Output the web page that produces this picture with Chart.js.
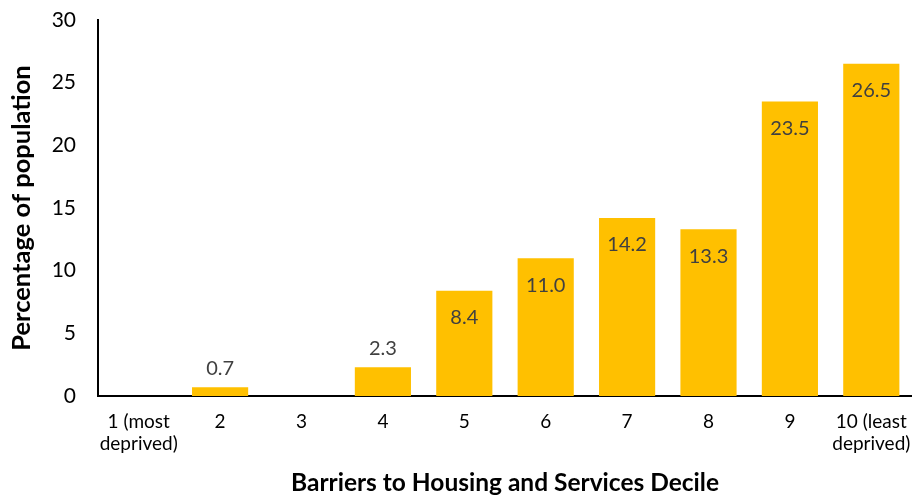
<!DOCTYPE html>
<html>
<head>
<meta charset="utf-8">
<script src="https://cdn.jsdelivr.net/npm/chart.js@4"></script>
<style>
  html, body { margin: 0; padding: 0; background: #fff; }
  #wrap { width: 912px; height: 498px; }
</style>
</head>
<body>
<div id="wrap"><canvas id="decileChart"></canvas></div>
<script>
// Deciles and share of population in each
const deciles = [['1 (most', 'deprived)'], '2', '3', '4', '5', '6', '7', '8', '9', ['10 (least', 'deprived)']];
const populationPct = [0, 0.7, 0, 2.3, 8.4, 11.0, 14.2, 13.3, 23.5, 26.5];
const yTicks = [0, 5, 10, 15, 20, 25, 30];

const FONT = "'Lato', 'Open Sans', sans-serif";

// Value labels: inside the top of tall bars, above short ones, none for zero
const barLabels = {
  id: 'barLabels',
  afterDatasetsDraw(chart) {
    const ctx = chart.ctx;
    const meta = chart.getDatasetMeta(0);
    ctx.save();
    ctx.font = '20px ' + FONT;
    ctx.fillStyle = '#404040';
    ctx.textAlign = 'center';
    ctx.textBaseline = 'middle';
    meta.data.forEach((bar, i) => {
      const v = populationPct[i];
      if (!v) return;
      const y = v > 5 ? bar.y + 27 : bar.y - 19;
      ctx.fillText(v.toFixed(1), bar.x, y);
    });
    ctx.restore();
  }
};

// Invisible tick marks push the labels off the axis without adding edge padding
new Chart(document.getElementById('decileChart'), {
  type: 'bar',
  data: {
    labels: deciles,
    datasets: [{
      data: populationPct,
      backgroundColor: '#FFC000',
      barPercentage: 0.69,
      categoryPercentage: 1
    }]
  },
  options: {
    responsive: true,
    maintainAspectRatio: false,
    animation: false,
    layout: { padding: { top: 20, right: 0, left: 0, bottom: 0 } },
    plugins: { legend: { display: false }, tooltip: { enabled: false } },
    scales: {
      x: {
        grid: { display: false, drawTicks: true, tickLength: 14, tickColor: 'transparent' },
        border: { display: true, color: '#000', width: 2 },
        ticks: { color: '#000', font: { size: 19, family: FONT }, padding: 0, maxRotation: 0, autoSkip: false },
        title: { display: true, text: 'Barriers to Housing and Services Decile', color: '#000',
                 font: { size: 24.5, weight: 'bold', family: FONT }, padding: { top: 16, bottom: 0 } },
        afterFit(scale) { scale.height = 102; }
      },
      y: {
        min: 0,
        max: 30,
        afterBuildTicks(scale) { scale.ticks = yTicks.map(v => ({ value: v })); },
        grid: { display: false, drawTicks: true, tickLength: 20, tickColor: 'transparent' },
        border: { display: true, color: '#000', width: 2 },
        ticks: { color: '#000', font: { size: 21, family: FONT }, padding: 2 },
        title: { display: true, text: 'Percentage of population', color: '#000',
                 font: { size: 25.5, weight: 'bold', family: FONT }, padding: { top: 6, bottom: 6 } },
        afterFit(scale) { scale.width = 98; }
      }
    }
  },
  plugins: [barLabels]
});
</script>
</body>
</html>
